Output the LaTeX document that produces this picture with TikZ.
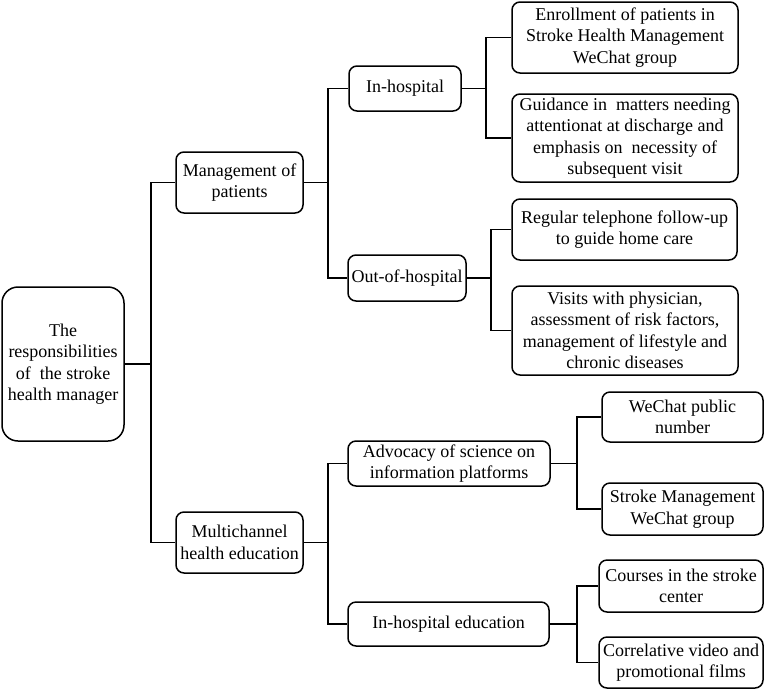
\documentclass[tikz,border=0pt]{standalone}
\usepackage{fontspec}
\setmainfont{Liberation Serif}
\usepackage{tikz}

\begin{document}
\begin{tikzpicture}[x=1pt,y=-1pt,line width=1.5pt,
  box node/.style={draw,rounded corners=8pt,align=center,inner sep=0pt,
    font=\fontsize{18}{21.5}\selectfont},
  root node/.style={box node,rounded corners=16pt}]
  \useasboundingbox (0,0) rectangle (770,691);
  \node[root node,minimum width=122pt,minimum height=154pt] (root) at (63,364) {The\\responsibilities\\of~ the stroke\\health manager};
  \node[box node,minimum width=127pt,minimum height=61pt] (mgmt) at (239.5,182.5) {Management of\\patients};
  \node[box node,minimum width=127pt,minimum height=61pt] (multi) at (239.5,542.5) {Multichannel\\health education};

  \node[box node,minimum width=112pt,minimum height=45pt] (inhosp) at (405,88.5) {In-hospital};
  \node[box node,minimum width=118pt,minimum height=46pt] (outhosp) at (407,278) {Out-of-hospital};
  \node[box node,minimum width=202pt,minimum height=45pt] (advocacy) at (449,463.5) {Advocacy of science on\\information platforms};
  \node[box node,minimum width=201pt,minimum height=44pt] (inhospedu) at (448.5,624) {In-hospital education};

  \node[box node,minimum width=226pt,minimum height=71pt] (enroll) at (625,37.5) {Enrollment of patients in\\Stroke Health Management\\WeChat group};
  \node[box node,minimum width=226pt,minimum height=88pt] (guidance) at (625,138) {Guidance in~ matters needing\\attentionat at discharge and\\emphasis on~ necessity of\\subsequent visit};
  \node[box node,minimum width=225pt,minimum height=61pt] (regular) at (624.5,229.5) {Regular telephone follow-up\\to guide home care};
  \node[box node,minimum width=226pt,minimum height=89pt] (visits) at (625,330.5) {Visits with physician,\\assessment of risk factors,\\management of lifestyle and\\chronic diseases};
  \node[box node,minimum width=161pt,minimum height=50pt] (wechatpub) at (682.5,417) {WeChat public\\number};
  \node[box node,minimum width=161pt,minimum height=52pt] (wechatgrp) at (682.5,509) {Stroke Management\\WeChat group};
  \node[box node,minimum width=164pt,minimum height=52pt] (courses) at (681,586) {Courses in the stroke\\center};
  \node[box node,minimum width=164pt,minimum height=51pt] (films) at (681,662.5) {Correlative video and\\promotional films};

  % connectors
  \draw (root.east) -- +(26,0) |- (mgmt.west);
  \draw (root.east) -- +(26,0) |- (multi.west);
  \draw (mgmt.east) -- +(24,0) |- (inhosp.west);
  \draw (mgmt.east) -- +(24,0) |- (outhosp.west);
  \draw (multi.east) -- +(24,0) |- (advocacy.west);
  \draw (multi.east) -- +(24,0) |- (inhospedu.west);
  \draw (inhosp.east) -- +(24,0) |- (enroll.west);
  \draw (inhosp.east) -- +(24,0) |- (guidance.west);
  \draw (outhosp.east) -- +(24,0) |- (regular.west);
  \draw (outhosp.east) -- +(24,0) |- (visits.west);
  \draw (advocacy.east) -- +(26,0) |- (wechatpub.west);
  \draw (advocacy.east) -- +(26,0) |- (wechatgrp.west);
  \draw (inhospedu.east) -- +(27,0) |- (courses.west);
  \draw (inhospedu.east) -- +(27,0) |- (films.west);
\end{tikzpicture}
\end{document}
